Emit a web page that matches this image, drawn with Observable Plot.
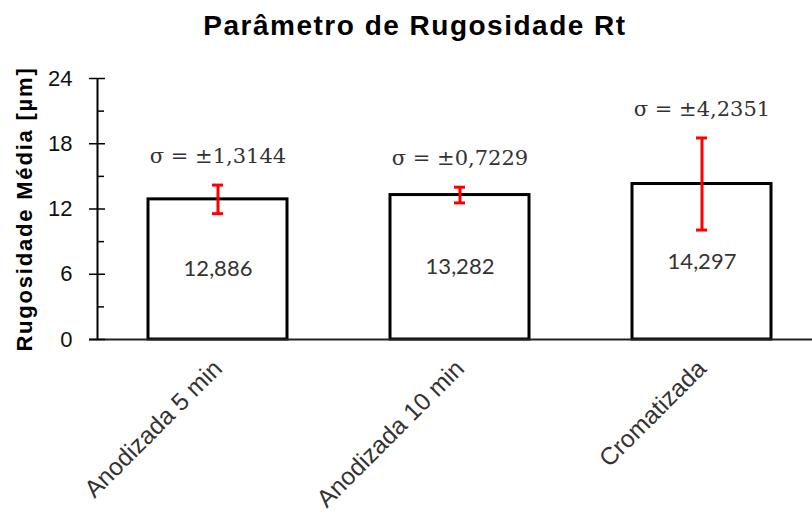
<!DOCTYPE html>
<html><head><meta charset="utf-8">
<script src="https://cdn.jsdelivr.net/npm/d3@7"></script>
<script src="https://cdn.jsdelivr.net/npm/@observablehq/plot@0.6"></script>
<style>
body{margin:0;background:#fff;width:812px;height:516px;overflow:hidden}
#title{height:45px;padding-top:10px;line-height:40px;text-align:center;font:bold 28px "Liberation Sans",Arial,sans-serif;padding-left:18px;color:#000;letter-spacing:1.5px;white-space:nowrap}
</style></head><body>
<div id="title">Parâmetro de Rugosidade Rt</div>
<div id="chart"></div>
<script>
const categories = ["Anodizada 5 min", "Anodizada 10 min", "Cromatizada"];
const means = [12.886, 13.282, 14.297];
const sds = [1.3144, 0.7229, 4.2351];
const meanLabels = ["12,886", "13,282", "14,297"];
const sdLabels = ["σ = ±1,3144", "σ = ±0,7229", "σ = ±4,2351"];
const yMajorTicks = [0, 6, 12, 18, 24];
const yMinorTicks = [3, 9, 15, 21];
const yLabel = "Rugosidade Média [µm]";

const data = categories.map((c, i) => ({cat: c, mean: means[i], sd: sds[i], meanLabel: meanLabels[i], sdLabel: sdLabels[i]}));

const W = 812, H = 461, mL = 97, mR = 0, mT = 23, mB = 177;
const fw = W - mL - mR, fh = H - mT - mB;

const plot = Plot.plot({
  width: W, height: H,
  marginLeft: mL, marginRight: mR, marginTop: mT, marginBottom: mB,
  style: {fontFamily: '"Liberation Sans", Arial, sans-serif', background: "#fff", color: "#000", overflow: "visible"},
  x: {domain: categories, range: [97, 823], paddingInner: 0.424, paddingOuter: 0.206, align: 0.5},
  y: {domain: [0, 24]},
  marks: [
    Plot.barY(data, {x: "cat", y: "mean", fill: "#fff", stroke: "#000", strokeWidth: 3}),
    Plot.frame({stroke: "#000", strokeWidth: 2, strokeDasharray: `0 ${2 * fw + fh} ${fh}`}),
    Plot.ruleY([0], {stroke: "#222", strokeWidth: 2, insetLeft: -8}),
    Plot.axisY(yMajorTicks, {tickSize: 16, dx: 8, tickFormat: () => "", label: null, strokeWidth: 1.5}),
    Plot.axisY(yMinorTicks, {tickSize: 7, dx: 7, tickFormat: () => "", label: null, strokeWidth: 1.5}),
    Plot.axisY(yMajorTicks, {tickSize: 0, tickPadding: 25, fontSize: 22, label: null, fill: "#111"}),
    Plot.axisX({tickSize: 0, tickPadding: 25, tickRotate: -45, fontSize: 24.5, label: null, fill: "#333"}),
    Plot.ruleX(data, {x: "cat", y1: d => d.mean - d.sd, y2: d => d.mean + d.sd, stroke: "#f00", strokeWidth: 3}),
    Plot.tickY(data, {x: "cat", y: d => d.mean + d.sd, stroke: "#f00", strokeWidth: 3, inset: 64}),
    Plot.tickY(data, {x: "cat", y: d => d.mean - d.sd, stroke: "#f00", strokeWidth: 3, inset: 64}),
    Plot.text(data, {x: "cat", y: d => d.mean / 2, text: "meanLabel", fontFamily: "Lato", fontSize: 22, fill: "#333"}),
    Plot.text(data, {x: "cat", y: d => d.mean + d.sd, dy: -29, text: "sdLabel", fontFamily: '"DejaVu Serif"', fontSize: 21, fill: "#333"}),
    Plot.text([yLabel], {text: d => d, frameAnchor: "left", textAnchor: "middle", dx: -73, dy: 0, rotate: -90, fontWeight: "bold", fontSize: 22, fill: "#000"})
  ]
});
d3.select(plot).selectAll("text").filter(function() { return this.textContent === yLabel; }).style("letter-spacing", "1.8px");
document.getElementById("chart").appendChild(plot);
</script>
</body></html>
